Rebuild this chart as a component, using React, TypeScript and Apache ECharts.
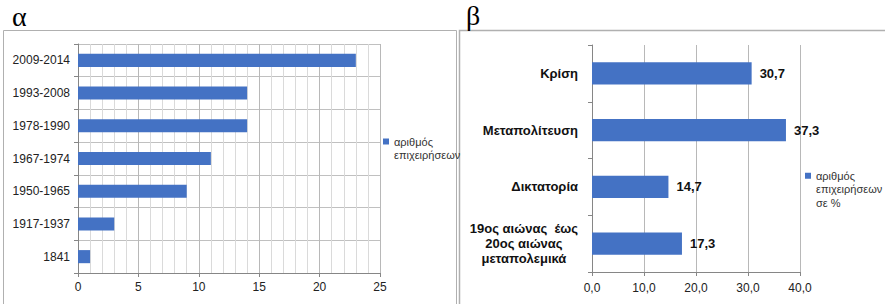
import React, { useEffect, useRef } from 'react';
import * as echarts from 'echarts';

const periodsA = ['1841', '1917-1937', '1950-1965', '1967-1974', '1978-1990', '1993-2008', '2009-2014'];
const countsA = [1, 3, 9, 11, 14, 14, 23];
const ticksA = [0, 5, 10, 15, 20, 25];

const periodsB = ['19ος αιώνας  έως\n20ος αιώνας\nμεταπολεμικά', 'Δικτατορία', 'Μεταπολίτευση', 'Κρίση'];
const sharesB = [17.3, 14.7, 37.3, 30.7];
const ticksB = [0, 10, 20, 30, 40];

const seriesNameA = 'αριθμός επιχειρήσεων';
const legendLinesA = ['αριθμός', 'επιχειρήσεων'];
const seriesNameB = 'αριθμός επιχειρήσεων σε %';
const legendLinesB = ['αριθμός', 'επιχειρήσεων', 'σε %'];

const panelTitles = ['α', 'β'];

const FONT = '"Liberation Sans", Arial, sans-serif';
const BAR = '#4472C4';

// put the first line of a multi-line legend label level with the icon, lines left-aligned
const legendText = (lines: string[]) => {
  const blanks = new Array(lines.length - 1).fill('{l|\u00a0}');
  return [...blanks, ...lines.map((l) => `{l|${l}}`)].join('\n');
};

export default function App() {
  const ref = useRef<HTMLDivElement>(null);
  useEffect(() => {
    document.body.style.margin = '0';
    if (!ref.current) return;
    const chart = echarts.init(ref.current, undefined, { renderer: 'svg' });
    const fmtComma = (v: number) => v.toFixed(1).replace('.', ',');
    const legendRich = (lh: number) => ({
      l: { fontFamily: FONT, fontSize: 11, color: '#333', lineHeight: lh, align: 'left' },
    });
    chart.setOption({
      animation: false,
      textStyle: { fontFamily: FONT },
      graphic: [
        { type: 'rect', shape: { x: 3.5, y: 30.5, width: 453, height: 300 }, style: { fill: 'none', stroke: '#b0b0b0', lineWidth: 1 } },
        { type: 'rect', shape: { x: 459.5, y: 30.5, width: 440, height: 300 }, style: { fill: 'none', stroke: '#b0b0b0', lineWidth: 1.5 } },
        { type: 'text', x: 12, y: 16, style: { text: panelTitles[0], font: '28px "Liberation Serif", serif', fill: '#000', verticalAlign: 'middle' } },
        { type: 'text', x: 466, y: 15, style: { text: panelTitles[1], font: '28px "Liberation Serif", serif', fill: '#000', verticalAlign: 'middle' } },
      ],
      legend: [
        {
          data: [seriesNameA],
          left: 383,
          top: 122,
          padding: 0,
          itemWidth: 6,
          itemHeight: 6,
          itemGap: 0,
          icon: 'rect',
          formatter: () => legendText(legendLinesA),
          textStyle: { fontFamily: FONT, fontSize: 11, color: '#333', lineHeight: 13, rich: legendRich(13) },
        },
        {
          data: [seriesNameB],
          left: 805,
          top: 142,
          padding: 0,
          itemWidth: 6,
          itemHeight: 6,
          itemGap: 0,
          icon: 'rect',
          formatter: () => legendText(legendLinesB),
          textStyle: { fontFamily: FONT, fontSize: 11, color: '#333', lineHeight: 13.5, rich: legendRich(13.5) },
        },
      ],
      grid: [
        { left: 78, right: 885 - 380, top: 44, bottom: 304 - 273, containLabel: false },
        { left: 592, right: 885 - 800, top: 45, bottom: 304 - 272, containLabel: false },
      ],
      xAxis: [
        {
          gridIndex: 0,
          type: 'value',
          min: ticksA[0],
          max: ticksA[ticksA.length - 1],
          interval: ticksA[1] - ticksA[0],
          axisLine: { show: true, lineStyle: { color: '#868686' } },
          axisTick: { show: true, length: 4, lineStyle: { color: '#868686' } },
          axisLabel: { fontFamily: FONT, fontSize: 12, color: '#222', margin: 8 },
          splitLine: { show: true, lineStyle: { color: '#b8b8b8' } },
          minorTick: { show: false, splitNumber: 5 },
          minorSplitLine: { show: true, lineStyle: { color: '#dadada' } },
        },
        {
          gridIndex: 1,
          type: 'value',
          min: ticksB[0],
          max: ticksB[ticksB.length - 1],
          interval: ticksB[1] - ticksB[0],
          axisLine: { show: true, lineStyle: { color: '#868686' } },
          axisTick: { show: true, length: 4, lineStyle: { color: '#868686' } },
          axisLabel: { fontFamily: FONT, fontSize: 12, color: '#222', margin: 10, formatter: fmtComma },
          splitLine: { show: true, lineStyle: { color: '#b8b8b8' } },
        },
      ],
      yAxis: [
        {
          gridIndex: 0,
          type: 'category',
          data: periodsA,
          axisLine: { show: true, lineStyle: { color: '#868686' } },
          axisTick: { show: true, length: 4, lineStyle: { color: '#868686' } },
          axisLabel: { fontFamily: FONT, fontSize: 12, color: '#222', margin: 8 },
          splitLine: { show: true, lineStyle: { color: '#c0c0c0' } },
        },
        {
          gridIndex: 1,
          type: 'category',
          data: periodsB,
          axisLine: { show: true, lineStyle: { color: '#868686' } },
          axisTick: { show: true, length: 4, lineStyle: { color: '#868686' } },
          axisLabel: {
            margin: 14,
            formatter: (v: string) => v.split('\n').map((l) => `{c|${l}}`).join('\n'),
            rich: {
              c: { fontFamily: FONT, fontSize: 13, fontWeight: 'bold', color: '#111', align: 'center', lineHeight: 15 },
            },
          },
          splitLine: { show: false },
        },
      ],
      series: [
        {
          name: seriesNameA,
          type: 'bar',
          xAxisIndex: 0,
          yAxisIndex: 0,
          data: countsA,
          barCategoryGap: '60%',
          itemStyle: { color: BAR },
        },
        {
          name: seriesNameB,
          type: 'bar',
          xAxisIndex: 1,
          yAxisIndex: 1,
          data: sharesB,
          barCategoryGap: '61%',
          itemStyle: { color: BAR },
          label: {
            show: true,
            position: 'right',
            distance: 8,
            formatter: (p: any) => fmtComma(p.value),
            fontFamily: FONT,
            fontSize: 13,
            fontWeight: 'bold',
            color: '#111',
          },
        },
      ],
    });
    return () => chart.dispose();
  }, []);
  return <div ref={ref} style={{ width: 885, height: 304 }} />;
}
